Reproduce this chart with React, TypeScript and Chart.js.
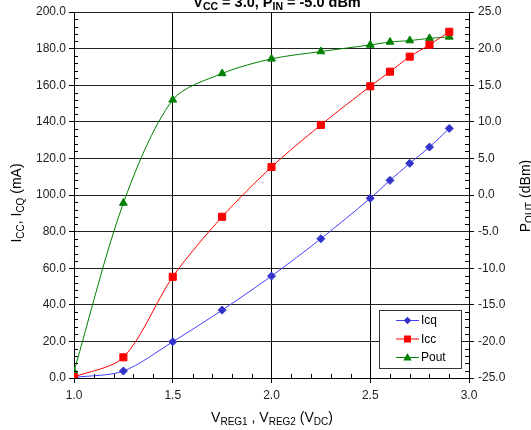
import React, { useEffect, useRef } from 'react';
import { Chart, registerables } from 'chart.js';

Chart.register(...registerables);

// ---- data ----
const vReg = [1.0, 1.25, 1.5, 1.75, 2.0, 2.25, 2.5, 2.6, 2.7, 2.8, 2.9];
const icq = [0.3, 3.8, 19.8, 37.1, 55.7, 76.1, 98.2, 108.0, 117.3, 126.2, 136.4];
const icc = [0.5, 11.3, 55.3, 88.1, 115.3, 138.3, 159.4, 167.4, 175.6, 182.1, 189.2];
const pout = [-24.1, -1.1, 13.0, 16.6, 18.6, 19.6, 20.5, 20.9, 21.1, 21.4, 21.6];
const seriesNames = ['Icq', 'Icc', 'Pout'];

const FONT = '"Liberation Sans", Arial, Helvetica, sans-serif';

type Seg = { t: string; sub?: boolean };

function drawRich(
  ctx: CanvasRenderingContext2D,
  segs: Seg[],
  size: number,
  subSize: number,
  bold: boolean,
  cx: number,
  cy: number,
  rot: number
) {
  ctx.save();
  ctx.translate(cx, cy);
  if (rot) ctx.rotate(rot);
  const f = (s: Seg) => `${bold ? 'bold ' : ''}${s.sub ? subSize : size}px ${FONT}`;
  let total = 0;
  for (const s of segs) {
    ctx.font = f(s);
    total += ctx.measureText(s.t).width;
  }
  let x = -total / 2;
  ctx.textBaseline = 'alphabetic';
  ctx.textAlign = 'left';
  ctx.fillStyle = '#000';
  for (const s of segs) {
    ctx.font = f(s);
    ctx.fillText(s.t, x, s.sub ? 3 : 0);
    x += ctx.measureText(s.t).width;
  }
  ctx.restore();
}

function drawMarker(ctx: CanvasRenderingContext2D, style: string, x: number, y: number, color: string) {
  ctx.save();
  ctx.fillStyle = color;
  ctx.beginPath();
  if (style === 'rectRot') {
    const r = 3.8;
    ctx.moveTo(x, y - r);
    ctx.lineTo(x + r, y);
    ctx.lineTo(x, y + r);
    ctx.lineTo(x - r, y);
  } else if (style === 'rect') {
    ctx.rect(x - 3.5, y - 3.5, 7, 7);
  } else {
    ctx.moveTo(x, y - 4.5);
    ctx.lineTo(x + 4.2, y + 3);
    ctx.lineTo(x - 4.2, y + 3);
  }
  ctx.closePath();
  ctx.fill();
  ctx.restore();
}

const decorPlugin = {
  id: 'decor',
  afterDraw(chart: any) {
    const ctx: CanvasRenderingContext2D = chart.ctx;
    const x = chart.scales.x;
    const y = chart.scales.y;
    const y2 = chart.scales.y2;
    const { left, right, bottom } = chart.chartArea;

    // minor ticks
    ctx.save();
    ctx.strokeStyle = '#000';
    ctx.lineWidth = 1;
    ctx.beginPath();
    for (let v = 0; v <= 200; v += 4) {
      if (v % 20 === 0) continue;
      const py = Math.round(y.getPixelForValue(v)) + 0.5;
      ctx.moveTo(left, py);
      ctx.lineTo(left + 4, py);
    }
    for (let v = -25; v <= 25; v += 1) {
      if (v % 5 === 0) continue;
      const py = Math.round(y2.getPixelForValue(v)) + 0.5;
      ctx.moveTo(right - 4, py);
      ctx.lineTo(right, py);
    }
    for (let i = 10; i <= 30; i++) {
      if (i % 5 === 0) continue;
      const px = Math.round(x.getPixelForValue(i / 10)) + 0.5;
      ctx.moveTo(px, bottom);
      ctx.lineTo(px, bottom - 4);
    }
    ctx.stroke();
    ctx.restore();

    // titles
    drawRich(ctx, [{ t: 'V' }, { t: 'CC', sub: true }, { t: ' = 3.0, P' }, { t: 'IN', sub: true }, { t: ' = -5.0 dBm' }], 14.5, 10.5, true, 277, 7, 0);
    drawRich(ctx, [{ t: 'I' }, { t: 'CC', sub: true }, { t: ', I' }, { t: 'CQ', sub: true }, { t: ' (mA)' }], 14, 10, false, 21, 203, -Math.PI / 2);
    drawRich(ctx, [{ t: 'P' }, { t: 'OUT', sub: true }, { t: ' (dBm)' }], 14, 10, false, 530, 196, -Math.PI / 2);
    drawRich(ctx, [{ t: 'V' }, { t: 'REG1', sub: true }, { t: ' , V' }, { t: 'REG2', sub: true }, { t: ' (V' }, { t: 'DC', sub: true }, { t: ')' }], 14, 10, false, 272, 422, 0);

    // legend
    ctx.save();
    ctx.fillStyle = '#fff';
    ctx.fillRect(379.5, 310.5, 82, 58);
    ctx.strokeStyle = '#333';
    ctx.lineWidth = 1;
    ctx.strokeRect(379.5, 310.5, 82, 58);
    chart.data.datasets.forEach((ds: any, i: number) => {
      const ly = 320 + i * 18.5;
      ctx.strokeStyle = ds.borderColor;
      ctx.beginPath();
      ctx.moveTo(396, ly + 0.5);
      ctx.lineTo(419, ly + 0.5);
      ctx.stroke();
      drawMarker(ctx, ds.pointStyle, 407.5, ly + 0.5, ds.pointBackgroundColor);
      ctx.fillStyle = '#000';
      ctx.font = `12px ${FONT}`;
      ctx.textBaseline = 'middle';
      ctx.textAlign = 'left';
      ctx.fillText(ds.label, 421, ly + 1);
    });
    ctx.restore();
  },
};

export default function App() {
  const ref = useRef<HTMLCanvasElement>(null);
  useEffect(() => {
    if (!ref.current) return;
    const tickFont = { family: FONT, size: 12 };
    const chart = new Chart(ref.current, {
      type: 'line',
      data: {
        labels: vReg,
        datasets: [
          {
            label: seriesNames[0],
            data: vReg.map((v, i) => ({ x: v, y: icq[i] })),
            yAxisID: 'y',
            borderColor: '#4040ff',
            backgroundColor: '#3333cc',
            pointBackgroundColor: '#3333cc',
            pointBorderColor: '#3333cc',
            pointStyle: 'rectRot',
            pointRadius: 4,
            borderWidth: 1,
            tension: 0.3,
            order: 2,
          },
          {
            label: seriesNames[1],
            data: vReg.map((v, i) => ({ x: v, y: icc[i] })),
            yAxisID: 'y',
            borderColor: '#ff0000',
            backgroundColor: '#ff0000',
            pointBackgroundColor: '#ff0000',
            pointBorderColor: '#ff0000',
            pointStyle: 'rect',
            pointRadius: 5,
            borderWidth: 1,
            tension: 0.3,
            order: 1,
          },
          {
            label: seriesNames[2],
            data: vReg.map((v, i) => ({ x: v, y: pout[i] })),
            yAxisID: 'y2',
            borderColor: '#008000',
            backgroundColor: '#008000',
            pointBackgroundColor: '#008000',
            pointBorderColor: '#008000',
            pointStyle: 'triangle',
            pointRadius: 4.5,
            borderWidth: 1,
            tension: 0.3,
            order: 3,
          },
        ],
      },
      options: {
        animation: false,
        responsive: false,
        devicePixelRatio: 1,
        layout: { padding: { top: 12, left: 0, right: 0, bottom: 0 } },
        plugins: { legend: { display: false }, tooltip: { enabled: false }, title: { display: false } },
        scales: {
          x: {
            type: 'linear',
            min: 1,
            max: 3,
            ticks: { stepSize: 0.5, color: '#222', font: tickFont, padding: 5, callback: (v: any) => Number(v).toFixed(1), maxRotation: 0 },
            grid: { color: '#000', tickLength: 5, tickColor: '#000' },
            border: { color: '#000' },
            afterFit: (s: any) => { s.height = 52; },
          },
          y: {
            position: 'left',
            min: 0,
            max: 200,
            ticks: { stepSize: 20, color: '#222', font: tickFont, padding: 3, callback: (v: any) => Number(v).toFixed(1) },
            grid: { color: '#222', tickLength: 5, tickColor: '#000' },
            border: { color: '#000' },
            afterFit: (s: any) => { s.width = 74; },
          },
          y2: {
            position: 'right',
            min: -25,
            max: 25,
            ticks: { stepSize: 5, color: '#222', font: tickFont, padding: 4, callback: (v: any) => Number(v).toFixed(1) },
            grid: { drawOnChartArea: false, tickLength: 5, tickColor: '#000' },
            border: { color: '#000' },
            afterFit: (s: any) => { s.width = 62; },
          },
        },
      } as any,
      plugins: [decorPlugin],
    });
    return () => chart.destroy();
  }, []);
  return (
    <div style={{ position: 'absolute', left: 0, top: 0, width: 531, height: 430, background: '#fff' }}>
      <canvas ref={ref} width={531} height={430} style={{ width: 531, height: 430 }} />
    </div>
  );
}
